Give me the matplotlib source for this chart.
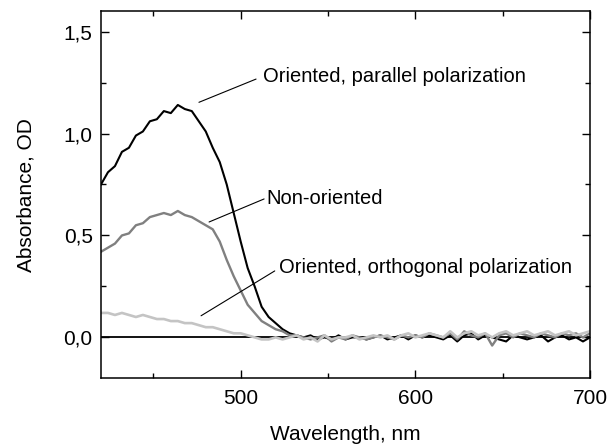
import numpy as np
import matplotlib.pyplot as plt
from matplotlib.ticker import MultipleLocator, FuncFormatter

plt.rcParams['font.family'] = ['Liberation Sans', 'DejaVu Sans']

# wavelength grid, nm
wl = np.arange(420, 701, 4)

# oriented, parallel polarization (black)
parallel = [0.75, 0.81, 0.84, 0.91, 0.93, 0.99, 1.01, 1.06, 1.07, 1.11, 1.10, 1.14,
            1.12, 1.11, 1.06, 1.01, 0.93, 0.86, 0.75, 0.61, 0.47, 0.34, 0.25, 0.15,
            0.10, 0.07, 0.04, 0.02, 0.01, 0.00, 0.01, -0.01, 0.00, -0.01, 0.01, -0.01,
            0.00, 0.00, -0.01, 0.00, 0.01, -0.01, 0.00, 0.01, -0.01, 0.01, 0.00, 0.01,
            0.00, -0.01, 0.01, -0.02, 0.01, 0.02, -0.01, 0.01, 0.00, -0.01, -0.02, 0.01,
            0.00, -0.01, 0.00, 0.01, -0.02, 0.00, 0.01, -0.01, 0.00, -0.02, 0.00]

# non-oriented (grey)
nonoriented = [0.42, 0.44, 0.46, 0.50, 0.51, 0.55, 0.56, 0.59, 0.60, 0.61, 0.60, 0.62,
               0.60, 0.59, 0.57, 0.55, 0.53, 0.47, 0.38, 0.30, 0.23, 0.16, 0.12, 0.08,
               0.06, 0.04, 0.03, 0.01, 0.01, 0.00, -0.01, 0.00, 0.01, -0.02, 0.00, -0.01,
               0.01, 0.00, -0.01, 0.00, 0.01, 0.00, -0.01, 0.01, 0.00, 0.01, 0.00, 0.02,
               0.01, 0.00, 0.02, -0.01, 0.03, 0.01, 0.00, 0.02, -0.04, 0.01, 0.02, 0.00,
               0.02, 0.01, 0.00, 0.02, 0.01, 0.00, 0.02, 0.01, 0.02, 0.00, 0.02]

# oriented, orthogonal polarization (light grey)
orthogonal = [0.12, 0.12, 0.11, 0.12, 0.11, 0.10, 0.11, 0.10, 0.09, 0.09, 0.08, 0.08,
              0.07, 0.07, 0.06, 0.05, 0.05, 0.04, 0.03, 0.02, 0.02, 0.01, 0.00, -0.01,
              -0.01, 0.00, -0.01, 0.00, 0.01, -0.01, 0.00, -0.02, 0.01, -0.01, 0.00, 0.00,
              0.01, -0.01, 0.00, 0.01, 0.00, 0.01, -0.01, 0.01, 0.02, 0.00, 0.01, 0.02,
              0.01, 0.00, 0.03, 0.00, 0.02, 0.03, 0.01, 0.02, 0.00, 0.02, 0.03, 0.01,
              0.02, 0.03, 0.01, 0.02, 0.03, 0.01, 0.02, 0.03, 0.01, 0.02, 0.03]

# curve labels: text, text anchor (nm, OD), leader line from / to
labels = ['Oriented, parallel polarization', 'Non-oriented', 'Oriented, orthogonal polarization']
label_pos = [(512.8, 1.252), (514.8, 0.654), (522.1, 0.314)]
leader_from = [(476.1, 1.153), (481.9, 0.566), (477.3, 0.106)]
leader_to = [(508.8, 1.267), (513.4, 0.679), (519.5, 0.326)]

fig = plt.figure(figsize=(6.12, 4.47), dpi=100)
ax = fig.add_axes([0.165, 0.154, 0.799, 0.821])

ax.axhline(0, color='black', lw=1.3)
ax.plot(wl, parallel, color='black', lw=1.5)
ax.plot(wl, nonoriented, color='#808080', lw=1.7)
ax.plot(wl, orthogonal, color='#c4c4c4', lw=1.9)

ax.set_xlim(420, 700)
ax.set_ylim(-0.2, 1.6)
ax.xaxis.set_major_locator(MultipleLocator(100))
ax.xaxis.set_minor_locator(MultipleLocator(50))
ax.yaxis.set_major_locator(MultipleLocator(0.5))
ax.yaxis.set_minor_locator(MultipleLocator(0.25))
ax.yaxis.set_major_formatter(FuncFormatter(lambda v, p: ('%.1f' % v).replace('.', ',')))
ax.tick_params(which='both', direction='in', top=True, right=True, labelsize=15, width=1)
ax.tick_params(which='major', length=6)
ax.tick_params(which='minor', length=3.6)
ax.tick_params(axis='x', which='major', pad=8)
ax.tick_params(axis='y', which='major', pad=6)
for s in ax.spines.values():
    s.set_linewidth(1.1)

ax.set_xlabel('Wavelength, nm', fontsize=15, labelpad=12)
ax.set_ylabel('Absorbance, OD', fontsize=15, labelpad=20)

for txt, pos, a, b in zip(labels, label_pos, leader_from, leader_to):
    ax.text(pos[0], pos[1], txt, fontsize=14.5, va='baseline', ha='left')
    ax.annotate('', xy=a, xytext=b,
                arrowprops=dict(arrowstyle='-', color='black', lw=0.8, shrinkA=0, shrinkB=0))

plt.savefig('out.png')
